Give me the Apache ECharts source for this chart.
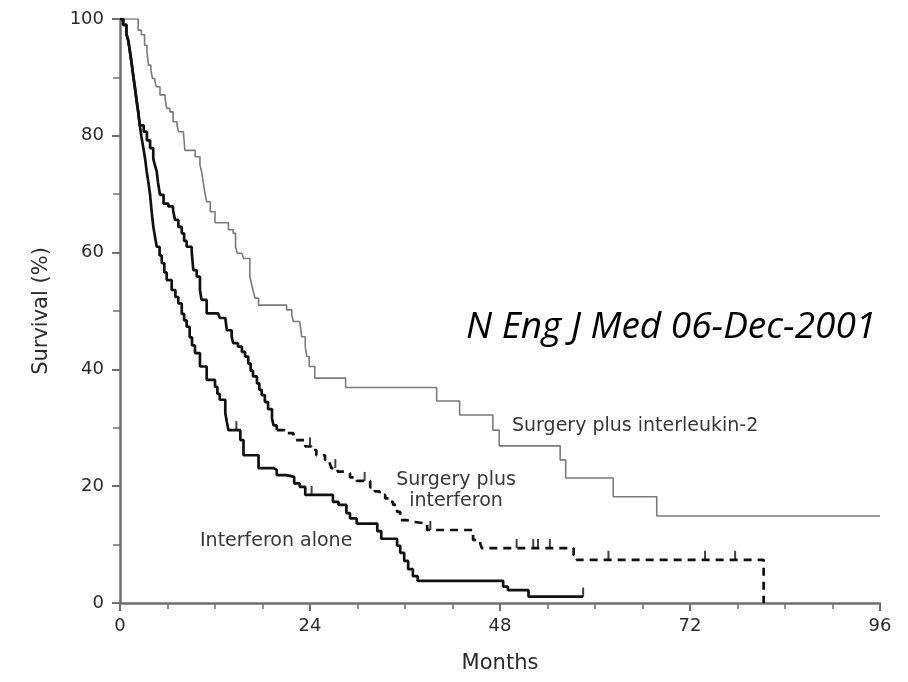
<!DOCTYPE html>
<html>
<head>
<meta charset="utf-8">
<title>Survival by treatment</title>
<script src="https://cdn.jsdelivr.net/npm/echarts/dist/echarts.min.js"></script>
<style>
  html, body { margin: 0; padding: 0; background: #ffffff; }
  #chart { width: 908px; height: 682px; }
</style>
</head>
<body>
<div id="chart"></div>
<script>
// Axis ticks
const monthTicks = [0, 24, 48, 72, 96];
const survivalTicks = [0, 20, 40, 60, 80, 100];

// Kaplan-Meier steps: [month of event, survival (%) after the event]
const il2Curve = [
  [0, 100], [2.3, 98.1], [2.7, 97.3], [3.1, 95.5], [3.4, 94.4], [3.6, 92.1], [3.9, 91.3],
  [4.1, 89.8], [4.4, 89.3], [4.6, 88.4], [5.05, 87.0], [5.7, 86.4], [5.9, 84.7], [6.3, 84.1],
  [6.7, 82.4], [7.2, 81.8], [7.4, 80.7], [8.0, 80.4], [8.2, 77.5], [9.5, 76.4], [10.1, 75.0],
  [10.3, 73.9], [10.5, 72.1], [10.7, 70.4], [10.95, 68.7], [11.4, 67.0], [12.0, 65.1],
  [13.7, 63.9], [14.3, 63.3], [14.6, 61.0], [14.8, 59.9], [15.4, 59.6], [15.6, 59.0],
  [16.4, 55.9], [16.6, 54.7], [16.8, 53.6], [17.05, 52.2], [17.5, 51.0], [21.05, 50.2],
  [21.7, 49.3], [21.9, 48.2], [22.7, 47.9], [22.95, 45.6], [23.4, 43.9], [23.6, 42.2],
  [23.9, 40.5], [24.6, 38.5], [28.5, 36.9], [40.0, 34.6], [42.9, 32.2], [47.1, 29.6],
  [47.9, 26.9], [55.6, 24.5], [56.3, 21.4], [62.3, 18.2], [67.8, 14.9], [96, 14.9]
];

const surgeryIfnCurve = [
  [0, 100], [0.4, 99.0], [0.8, 97.5], [1.05, 96.3], [1.3, 94.0], [1.5, 92.1], [1.7, 90.0],
  [1.9, 88.1], [2.1, 86.0], [2.3, 84.1], [2.5, 81.8], [3.0, 80.7], [3.4, 79.2], [3.8, 77.9],
  [4.2, 76.1], [4.4, 75.0], [4.64, 73.9], [4.8, 72.0], [5.05, 69.9], [5.5, 68.4], [6.1, 67.9],
  [6.7, 67.3], [6.95, 65.6], [7.37, 64.4], [7.8, 63.3], [8.1, 62.0], [8.42, 61.0], [9.05, 60.2],
  [9.26, 57.0], [9.69, 55.9], [10.1, 53.6], [10.3, 51.9], [10.95, 49.6], [12.4, 49.3],
  [12.6, 48.8], [13.3, 48.5], [13.5, 46.7], [14.1, 45.6], [14.3, 44.5], [14.9, 43.9],
  [15.4, 43.0], [15.8, 42.2], [16.2, 41.0], [16.5, 39.8], [16.8, 38.8], [17.3, 37.6],
  [17.6, 36.5], [17.9, 35.6], [18.3, 34.4], [18.7, 33.2], [19.2, 31.6], [19.4, 30.4],
  [19.8, 29.6], [20.8, 29.1], [21.9, 28.5], [22.1, 27.9], [23.4, 26.8], [24.2, 26.2],
  [24.8, 25.3], [25.9, 24.5], [26.5, 23.9], [26.7, 23.1], [27.5, 22.5], [28.3, 22.2],
  [29.05, 21.5], [29.9, 20.9], [31.6, 19.8], [32.2, 19.1], [32.8, 18.5], [33.5, 17.9],
  [34.1, 17.3], [34.5, 16.8], [35.0, 15.6], [35.4, 14.2], [36.2, 13.9], [37.0, 13.6],
  [38.8, 12.5], [44.6, 10.8], [45.5, 10.2], [45.7, 9.4], [57.3, 8.2], [57.7, 7.4], [81.3, 0]
];
// month from which the surgery-plus-interferon curve is drawn dashed
const surgeryIfnDashFrom = 19.8;
const surgeryIfnCensored = [24.0, 27.2, 30.9, 39.2, 50.1, 52.2, 52.8, 54.3, 61.7, 73.9, 77.7];

const ifnAloneCurve = [
  [0, 100], [0.4, 99.0], [0.8, 97.5], [1.05, 96.3], [1.3, 94.0], [1.5, 92.1], [1.7, 90.0],
  [1.9, 88.1], [2.1, 86.0], [2.3, 84.1], [2.5, 81.8], [2.7, 79.9], [2.95, 77.9], [3.2, 75.8],
  [3.37, 73.9], [3.6, 71.9], [3.8, 69.9], [4.0, 67.0], [4.2, 64.5], [4.45, 62.5], [4.64, 61.0],
  [5.0, 59.5], [5.27, 58.2], [5.6, 56.6], [5.9, 55.3], [6.53, 53.6], [7.0, 52.4], [7.37, 51.3],
  [7.8, 49.5], [8.1, 48.4], [8.42, 47.3], [8.8, 45.5], [9.1, 44.1], [9.47, 42.8], [10.1, 40.5],
  [10.95, 38.2], [12.0, 37.0], [12.3, 35.8], [12.6, 34.8], [13.3, 32.5], [13.5, 31.0],
  [13.7, 29.6], [15.2, 27.9], [15.6, 25.3], [17.5, 23.1], [19.4, 22.8], [19.8, 21.9],
  [21.05, 21.6], [22.0, 20.5], [22.7, 19.9], [23.4, 18.5], [26.9, 17.3], [27.6, 16.8],
  [28.6, 15.4], [29.05, 14.5], [29.9, 13.6], [32.5, 12.3], [33.0, 11.0], [35.0, 9.8],
  [35.4, 8.6], [35.9, 7.2], [36.4, 5.8], [37.0, 4.6], [37.6, 3.8], [48.4, 2.8], [49.0, 2.2],
  [51.6, 1.1], [58.5, 1.1]
];
const ifnAloneCensored = [14.7, 24.2, 58.5];

const curveNames = ['Surgery plus interleukin-2', 'Surgery plus', 'interferon', 'Interferon alone'];
const sourceNote = 'N Eng J Med 06-Dec-2001';

// survival level of a step curve at a given month
function survivalAt(curve, month) {
  let s = curve[0][1];
  for (const [m, v] of curve) {
    if (m <= month) s = v; else break;
  }
  return s;
}

const solidPart = surgeryIfnCurve.filter(p => p[0] <= surgeryIfnDashFrom);
const dashedPart = surgeryIfnCurve.filter(p => p[0] >= surgeryIfnDashFrom);

const censorMarks = (curve, months) => months.map(m => [m, survivalAt(curve, m)]);

const chart = echarts.init(document.getElementById('chart'), null, { renderer: 'canvas' });

const labelFont = 'DejaVu Sans';
const axisColor = '#6f6f6f';
const noteFont = '19px "DejaVu Sans"';
const noteColor = '#363636';

const option = {
  animation: false,
  backgroundColor: '#ffffff',
  grid: { left: 120, right: 28, top: 19, bottom: 79, containLabel: false, outerBoundsMode: 'none' },
  xAxis: {
    type: 'value',
    min: monthTicks[0],
    max: monthTicks[monthTicks.length - 1],
    interval: monthTicks[1] - monthTicks[0],
    name: 'Months',
    nameLocation: 'middle',
    nameGap: 50,
    nameTextStyle: { fontFamily: labelFont, fontSize: 21, color: '#2a2a2a' },
    axisLine: { show: true, onZero: false, lineStyle: { color: axisColor, width: 2.5 } },
    axisTick: { show: true, length: 8, lineStyle: { color: axisColor, width: 2 } },
    minorTick: { show: true, splitNumber: 4, length: 6, lineStyle: { color: axisColor, width: 1.5 } },
    splitLine: { show: false },
    minorSplitLine: { show: false },
    axisLabel: { margin: 14, fontFamily: labelFont, fontSize: 18, color: '#2a2a2a' }
  },
  yAxis: {
    type: 'value',
    min: survivalTicks[0],
    max: survivalTicks[survivalTicks.length - 1],
    interval: survivalTicks[1] - survivalTicks[0],
    name: 'Survival (%)',
    nameLocation: 'middle',
    nameGap: 68,
    nameTextStyle: { fontFamily: labelFont, fontSize: 21, color: '#2a2a2a' },
    axisLine: { show: true, onZero: false, lineStyle: { color: axisColor, width: 2.5 } },
    axisTick: { show: true, length: 8, lineStyle: { color: axisColor, width: 2 } },
    minorTick: { show: true, splitNumber: 2, length: 7, lineStyle: { color: axisColor, width: 1.5 } },
    splitLine: { show: false },
    minorSplitLine: { show: false },
    axisLabel: { margin: 16, fontFamily: labelFont, fontSize: 18, color: '#2a2a2a' }
  },
  series: [
    {
      name: curveNames[0],
      type: 'line',
      step: 'end',
      data: il2Curve,
      showSymbol: false,
      lineStyle: { color: '#7a7a7a', width: 1.6 },
      z: 2
    },
    {
      name: curveNames[1] + ' ' + curveNames[2],
      type: 'line',
      step: 'end',
      data: solidPart,
      showSymbol: false,
      lineStyle: { color: '#111111', width: 2.7 },
      z: 3
    },
    {
      name: curveNames[1] + ' ' + curveNames[2] + ' (later follow-up)',
      type: 'line',
      step: 'end',
      data: dashedPart,
      showSymbol: false,
      lineStyle: { color: '#111111', width: 2.7, type: [8, 6] },
      z: 3
    },
    {
      name: curveNames[3],
      type: 'line',
      step: 'end',
      data: ifnAloneCurve,
      showSymbol: false,
      lineStyle: { color: '#111111', width: 2.7 },
      z: 4
    },
    {
      name: 'censored',
      type: 'scatter',
      data: censorMarks(surgeryIfnCurve, surgeryIfnCensored).concat(censorMarks(ifnAloneCurve, ifnAloneCensored)),
      symbol: 'rect',
      symbolSize: [2, 9],
      symbolOffset: [0, -4.5],
      itemStyle: { color: '#111111' },
      z: 5
    }
  ],
  graphic: [
    {
      type: 'text', x: 512, y: 417,
      style: { text: curveNames[0], font: noteFont, fill: noteColor }
    },
    {
      type: 'text', x: 456, y: 471,
      style: { text: curveNames[1], font: noteFont, fill: noteColor, align: 'center' }
    },
    {
      type: 'text', x: 456, y: 492,
      style: { text: curveNames[2], font: noteFont, fill: noteColor, align: 'center' }
    },
    {
      type: 'text', x: 200, y: 532,
      style: { text: curveNames[3], font: noteFont, fill: noteColor }
    },
    {
      type: 'text', x: 466, y: 309,
      style: { text: sourceNote, font: 'italic 37px "Open Sans"', fill: '#000000' }
    }
  ]
};

chart.setOption(option);
</script>
</body>
</html>
